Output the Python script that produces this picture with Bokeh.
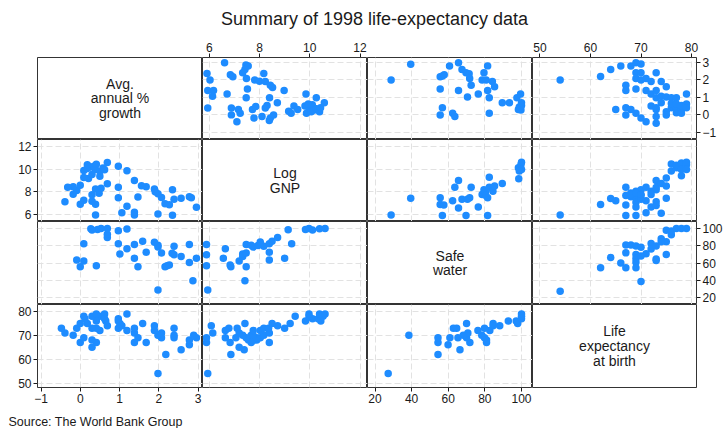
from bokeh.plotting import figure
from bokeh.models import LinearAxis, FixedTicker, Grid, Range1d, Label, GridBox
from bokeh.layouts import column
from bokeh.embed import file_html
from bokeh.resources import INLINE
from bokeh.core.properties import value

# ---------------- data ----------------
var_keys = ["growth", "lgnp", "safewater", "lexp"]
var_labels = ["Avg.\nannual %\ngrowth", "Log\nGNP", "Safe\nwater", "Life\nexpectancy\nat birth"]
tick_growth = [-1, 0, 1, 2, 3]
tick_lgnp = [6, 8, 10, 12]
tick_safewater = [20, 40, 60, 80, 100]
tick_lexp = [50, 60, 70, 80]

# pair A: log GNP vs growth
a_lgnp = [6.61, 7.46, 7.55, 7.42, 7.33, 5.91, 6.84, 6.94, 8.17, 6.03,
          7.48, 7.81, 8.0, 8.23, 8.43, 8.52, 8.98, 5.94, 6.17, 6.13,
          6.71, 7.52, 7.47, 8.40, 9.85, 10.26, 8.71, 10.58, 5.94, 6.88,
          7.16, 7.23, 6.88, 7.10, 7.72, 7.85, 8.23, 8.30, 7.78, 8.10,
          8.43, 8.56, 8.39, 9.16, 9.26, 9.37, 9.52, 9.81, 9.87, 9.97,
          10.10, 10.19, 10.06, 10.26, 10.39, 10.43, 9.94]
a_growth = [2.96, 2.83, 2.78, 2.57, 2.39, 2.35, 2.27, 2.16, 2.35, 1.98,
            2.07, 1.98, 1.91, 1.89, 1.68, 1.56, 1.38, 1.38, 1.38, 1.06,
            1.19, 1.47, 0.97, 0.97, 1.19, 0.97, 0.69, 0.69, 0.39, 0.39,
            0.30, 0.09, 0.0, -0.39, 0.30, 0.48, 0.39, 0.53, -0.18, -0.09,
            -0.18, 0.0, -0.32, 0.21, 0.09, 0.50, 0.30, 0.50, 0.09, 0.39,
            0.58, 0.27, 0.18, 0.35, 0.18, 0.41, 0.62]

# pair B: safe water vs growth
b_safewater = [28.8, 39.5, 55.6, 56.8, 57.8, 60.7, 65.6, 67.5, 69.7, 71.4,
               71.7, 81.5, 79.5, 78.5, 80.7, 84.1, 85.3, 72.5, 55.6, 65.6,
               81.5, 76.4, 70.5, 82.4, 56.8, 55.6, 62.4, 63.6, 82.4, 89.5,
               93.4, 97.5, 99.5, 100, 98.8, 99.7, 100, 98.3]
b_growth = [1.98, 2.87, 2.16, 2.21, 2.27, 2.78, 2.96, 2.57, 2.39, 2.34,
            2.07, 2.78, 2.39, 1.98, 1.98, 1.89, 1.59, 1.68, 1.47, 1.38,
            1.38, 1.19, 1.01, 0.97, 0.41, 0.0, 0.09, -0.09, 0.09, 0.69,
            0.69, 0.97, 1.19, 0.69, 0.44, 0.27, 0.53, 0.30]

# pair C: life expectancy vs growth
c_lexp = [54, 62, 64, 66, 68, 69, 70, 69, 70, 69,
          70, 71, 72, 73, 74, 75, 67, 67, 69, 71,
          72, 73, 73, 74, 75, 76, 77, 79, 74, 72,
          73, 73, 65, 67, 68, 67, 69, 70, 71, 73,
          73, 75, 75, 76, 77, 77, 78, 78, 79, 79,
          78, 76, 77]
c_growth = [1.98, 2.18, 2.57, 2.78, 2.78, 2.96, 2.89, 2.39, 2.39, 2.07,
            1.98, 2.07, 1.89, 2.39, 1.89, 1.59, 1.68, 1.38, 1.47, 1.38,
            1.19, 1.38, 0.97, 1.06, 1.01, 0.97, 0.97, 1.19, 0.69, 0.50,
            0.41, 0.30, 0.30, 0.41, 0.30, 0.0, 0.09, -0.18, -0.39, -0.09,
            -0.48, 0.18, 0.0, 0.41, 0.41, 0.12, 0.30, 0.53, 0.62, 0.41,
            0.09, 0.65, 0.62]

# pair D: safe water vs log GNP
d_safewater = [28.8, 39.5, 55.6, 55.6, 57.6, 56.8, 62.4, 65.6, 63.6, 65.6,
               67.5, 69.7, 70.5, 71.7, 72.5, 76.4, 78.5, 79.5, 80.3, 81.5,
               82.4, 82.4, 84.4, 85.3, 81.5, 89.5, 98.5, 98.3, 99.7, 100,
               100, 98.8, 80.5]
d_lgnp = [5.94, 7.42, 7.47, 6.86, 6.83, 5.89, 7.19, 9.0, 8.39, 6.56,
          7.33, 5.89, 7.33, 7.47, 8.39, 6.64, 7.75, 8.17, 7.94, 7.47,
          9.28, 8.39, 8.03, 8.5, 5.89, 8.72, 9.14, 10.11, 10.39, 9.97,
          10.61, 9.83, 7.67]

# pair E: life expectancy vs log GNP
e_lexp = [54, 62, 64, 65, 67, 67, 67, 67, 68, 69,
          69, 69, 69, 69, 70, 70, 70, 71, 71, 71,
          72, 72, 73, 73, 73, 73, 73, 74, 74, 75,
          75, 75, 76, 76, 77, 77, 78, 78, 78, 79,
          79, 79, 68, 68, 69, 70, 72]
e_lgnp = [5.94, 6.86, 7.39, 7.19, 8.39, 7.67, 6.83, 5.89, 7.56, 8.03,
          7.47, 7.06, 6.64, 5.89, 8.17, 7.67, 7.33, 8.39, 7.19, 6.14,
          8.03, 6.64, 8.17, 9.0, 7.11, 6.78, 8.36, 8.72, 6.08, 9.22,
          8.50, 7.42, 10.44, 9.83, 10.11, 10.33, 10.53, 9.97, 9.42, 10.39,
          10.61, 9.97, 7.89, 7.75, 7.89, 7.75, 7.75]

# pair F: life expectancy vs safe water
f_lexp = [54, 62, 64, 66, 67, 67, 67, 68, 69, 69,
          69, 69, 69, 70, 70, 71, 72, 72, 73, 73,
          73, 74, 75, 75, 75, 76, 76, 77, 78, 79,
          74, 70]
f_safewater = [27.2, 54.4, 66.4, 59.9, 54.4, 71.8, 80.9, 80.9, 79.8, 70.0,
               65.3, 60.9, 54.4, 38.5, 78.3, 70.7, 82.7, 76.2, 64.6, 62.8,
               79.8, 88.1, 84.5, 70.0, 97.9, 92.8, 97.1, 100, 100, 100,
               84.5, 68.2]

source_text = "Source: The World Bank Group"
title_text = "Summary of 1998 life-expectancy data"

# ---------------- assembly ----------------
ticks = {"growth": tick_growth, "lgnp": tick_lgnp,
         "safewater": tick_safewater, "lexp": tick_lexp}
pairs = {("lgnp", "growth"): (a_lgnp, a_growth),
         ("safewater", "growth"): (b_safewater, b_growth),
         ("lexp", "growth"): (c_lexp, c_growth),
         ("safewater", "lgnp"): (d_safewater, d_lgnp),
         ("lexp", "lgnp"): (e_lexp, e_lgnp),
         ("lexp", "safewater"): (f_lexp, f_safewater)}

data_of = {}
for (k1, k2), (v1, v2) in pairs.items():
    data_of.setdefault(k1, []).extend(v1)
    data_of.setdefault(k2, []).extend(v2)

CELL_W = 165
ROW_H = [82, 82, 83, 83]
LEFT, RIGHT, TOP, BOTTOM = 37, 28, 20, 18
TITLE_H, SRC_H = 37, 23
TOTAL_W = LEFT + 4 * CELL_W + RIGHT
# inner padding (px) of each variable's scale: (low side, high side)
XPAD = {"growth": (3.5, 4.5), "lgnp": (4, 7.5), "safewater": (7.5, 11), "lexp": (7.5, 5)}
YPAD = {"growth": (7, 4.5), "lgnp": (6, 7), "safewater": (7, 7), "lexp": (4.5, 7)}
FONT = "Liberation Sans"
BLUE = "#1E8CFF"
INK = "#1a1a1a"


def make_range(key, cell_px, pads):
    lo = min(min(ticks[key]), min(data_of[key]))
    hi = max(max(ticks[key]), max(data_of[key]))
    u = (hi - lo) / (cell_px - pads[0] - pads[1])
    return lo - pads[0] * u, hi + pads[1] * u


def style_axis(ax):
    ax.axis_line_color = None
    ax.major_tick_line_color = INK
    ax.major_tick_out = 4
    ax.major_tick_in = 0
    ax.minor_tick_line_color = None
    ax.major_label_text_font = FONT
    ax.major_label_text_font_size = "12px"
    ax.major_label_text_color = INK
    ax.major_label_standoff = 2


def bare_figure(**kw):
    p = figure(x_axis_location=None, y_axis_location=None, toolbar_location=None,
               output_backend="svg", **kw)
    p.center = [obj for obj in p.center if not isinstance(obj, Grid)]
    return p


children = []
for r, yk in enumerate(var_keys):
    for c, xk in enumerate(var_keys):
        w = CELL_W + (LEFT if c == 0 else 0) + (RIGHT if c == 3 else 0)
        h = ROW_H[r] + (TOP if r == 0 else 0) + (BOTTOM if r == 3 else 0)
        x0, x1 = make_range(xk, CELL_W, XPAD[xk])
        y0, y1 = make_range(yk, ROW_H[r], YPAD[yk])
        p = bare_figure(width=w, height=h, x_range=Range1d(x0, x1), y_range=Range1d(y0, y1),
                        min_border_left=LEFT if c == 0 else 0,
                        min_border_right=RIGHT if c == 3 else 0,
                        min_border_top=TOP if r == 0 else 0,
                        min_border_bottom=BOTTOM if r == 3 else 0)
        p.outline_line_color = "black"
        p.outline_line_width = 0.8
        p.background_fill_color = "white"
        p.border_fill_color = "white"

        if r == c:
            p.text(x=[(x0 + x1) / 2], y=[(y0 + y1) / 2], text=[var_labels[r]],
                   text_align="center", text_baseline="middle",
                   text_font=value(FONT), text_font_size="14px",
                   text_line_height=0.92, text_color=INK)
        else:
            p.add_layout(Grid(dimension=0, ticker=FixedTicker(ticks=ticks[xk]),
                              grid_line_color="#e2e2e2", grid_line_dash="6 3"))
            p.add_layout(Grid(dimension=1, ticker=FixedTicker(ticks=ticks[yk]),
                              grid_line_color="#e2e2e2", grid_line_dash="6 3"))
            if (xk, yk) in pairs:
                xs, ys = pairs[(xk, yk)]
            else:
                ys, xs = pairs[(yk, xk)]
            p.scatter(x=xs, y=ys, size=7.5, fill_color=BLUE, line_color=None)

        if r == 0 and c in (1, 3):
            ax = LinearAxis(ticker=FixedTicker(ticks=ticks[xk]))
            style_axis(ax)
            p.add_layout(ax, "above")
        if r == 3 and c in (0, 2):
            ax = LinearAxis(ticker=FixedTicker(ticks=ticks[xk]))
            style_axis(ax)
            p.add_layout(ax, "below")
        if c == 0 and r in (1, 3):
            ax = LinearAxis(ticker=FixedTicker(ticks=ticks[yk]))
            style_axis(ax)
            p.add_layout(ax, "left")
        if c == 3 and r in (0, 2):
            ax = LinearAxis(ticker=FixedTicker(ticks=ticks[yk]))
            style_axis(ax)
            p.add_layout(ax, "right")
        children.append((p, r, c))

grid = GridBox(children=children, spacing=0)

tf = bare_figure(width=TOTAL_W, height=TITLE_H, x_range=Range1d(0, TOTAL_W),
                 y_range=Range1d(0, TITLE_H), min_border=0)
tf.outline_line_color = None
tf.add_layout(Label(x=374, y=TITLE_H - 18, text=title_text, text_align="center",
                    text_baseline="middle", text_font=FONT, text_font_size="18px",
                    text_color=INK))

sf = bare_figure(width=TOTAL_W, height=SRC_H, x_range=Range1d(0, TOTAL_W),
                 y_range=Range1d(0, SRC_H), min_border=0)
sf.outline_line_color = None
sf.add_layout(Label(x=8, y=SRC_H - 16, text=source_text, text_align="left",
                    text_baseline="middle", text_font=FONT, text_font_size="12.5px",
                    text_color=INK))

layout = column(tf, grid, sf, spacing=0)

with open("out.html", "w") as fh:
    fh.write(file_html(layout, INLINE))
